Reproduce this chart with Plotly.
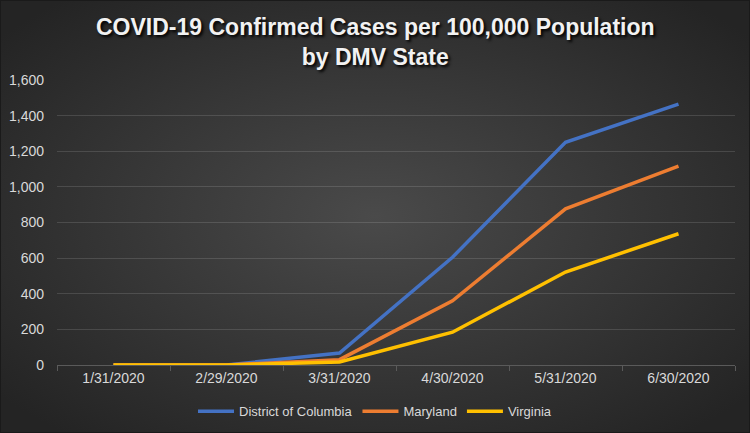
import base64
import plotly.graph_objects as go

dates = ["1/31/2020", "2/29/2020", "3/31/2020", "4/30/2020", "5/31/2020", "6/30/2020"]
dc = [0, 0, 67, 605, 1250, 1465]
md = [0, 0, 30, 360, 877, 1117]
va = [0, 0, 17, 184, 522, 737]
y_ticks = [0, 200, 400, 600, 800, 1000, 1200, 1400, 1600]

W, H = 750, 433
ml, mr, mt, mb = 57, 15, 80, 68
pw, ph = W - ml - mr, H - mt - mb

svg = f'''<svg xmlns="http://www.w3.org/2000/svg" width="{W}" height="{H}" viewBox="0 0 {W} {H}" preserveAspectRatio="none">
<defs><radialGradient id="g" cx="50%" cy="50%" r="65%">
<stop offset="0%" stop-color="#4a4a4a"/><stop offset="100%" stop-color="#242424"/></radialGradient></defs>
<rect width="{W}" height="{H}" fill="url(#g)"/>
<rect x="0.5" y="0.5" width="{W-1}" height="{H-1}" fill="none" stroke="#1a1a1a" stroke-width="1"/>
</svg>'''
src = "data:image/svg+xml;base64," + base64.b64encode(svg.encode()).decode()

fig = go.Figure()
for name, vals, col in [("District of Columbia", dc, "#4472C4"),
                        ("Maryland", md, "#ED7D31"),
                        ("Virginia", va, "#FFC000")]:
    fig.add_trace(go.Scatter(x=dates, y=vals, name=name, mode="lines",
                             line=dict(color=col, width=3.5)))

fig.add_layout_image(dict(source=src, xref="paper", yref="paper",
                          x=-ml / pw, y=1 + mt / ph, sizex=W / pw, sizey=H / ph,
                          xanchor="left", yanchor="top", sizing="stretch",
                          layer="below"))

fig.add_annotation(text="<b>COVID-19 Confirmed Cases per 100,000 Population<br>by DMV State</b>",
                   xref="paper", yref="paper", x=(375 - ml) / pw, y=1 + (80 - 42) / ph,
                   xanchor="center", yanchor="middle", showarrow=False,
                   font=dict(family="Arial", size=23, color="#f2f2f2",
                             shadow="2px 2px 3px #000000"))

fig.update_layout(
    width=W, height=H,
    margin=dict(l=ml, r=mr, t=mt, b=mb, autoexpand=False),
    paper_bgcolor="#333333", plot_bgcolor="rgba(0,0,0,0)",
    font=dict(family="Arial", color="#d9d9d9", size=14),
    xaxis=dict(type="category", showgrid=False, showline=True, linecolor="#5a5a5a",
               linewidth=1, ticks="outside", tickson="boundaries", ticklen=5,
               tickcolor="#5a5a5a", tickfont=dict(size=14, color="#d9d9d9"),
               range=[-0.5, 5.5], fixedrange=True, automargin=False),
    yaxis=dict(range=[0, 1600], tickvals=y_ticks, tickformat=",", showgrid=True,
               gridcolor="rgba(255,255,255,0.13)", gridwidth=1, zeroline=False,
               showline=False, ticks="", tickfont=dict(size=14, color="#d9d9d9"),
               ticklabelstandoff=12, automargin=False),
    legend=dict(orientation="h", x=(375 - ml) / pw, xanchor="center", y=-0.11, yanchor="top",
                font=dict(size=13, color="#d9d9d9"), itemwidth=36,
                bgcolor="rgba(0,0,0,0)", tracegroupgap=0),
    showlegend=True,
)

fig.write_html("out.html", config={"displayModeBar": False},
               post_script="document.body.style.margin='0';document.body.style.padding='0';document.body.style.overflow='hidden';")
